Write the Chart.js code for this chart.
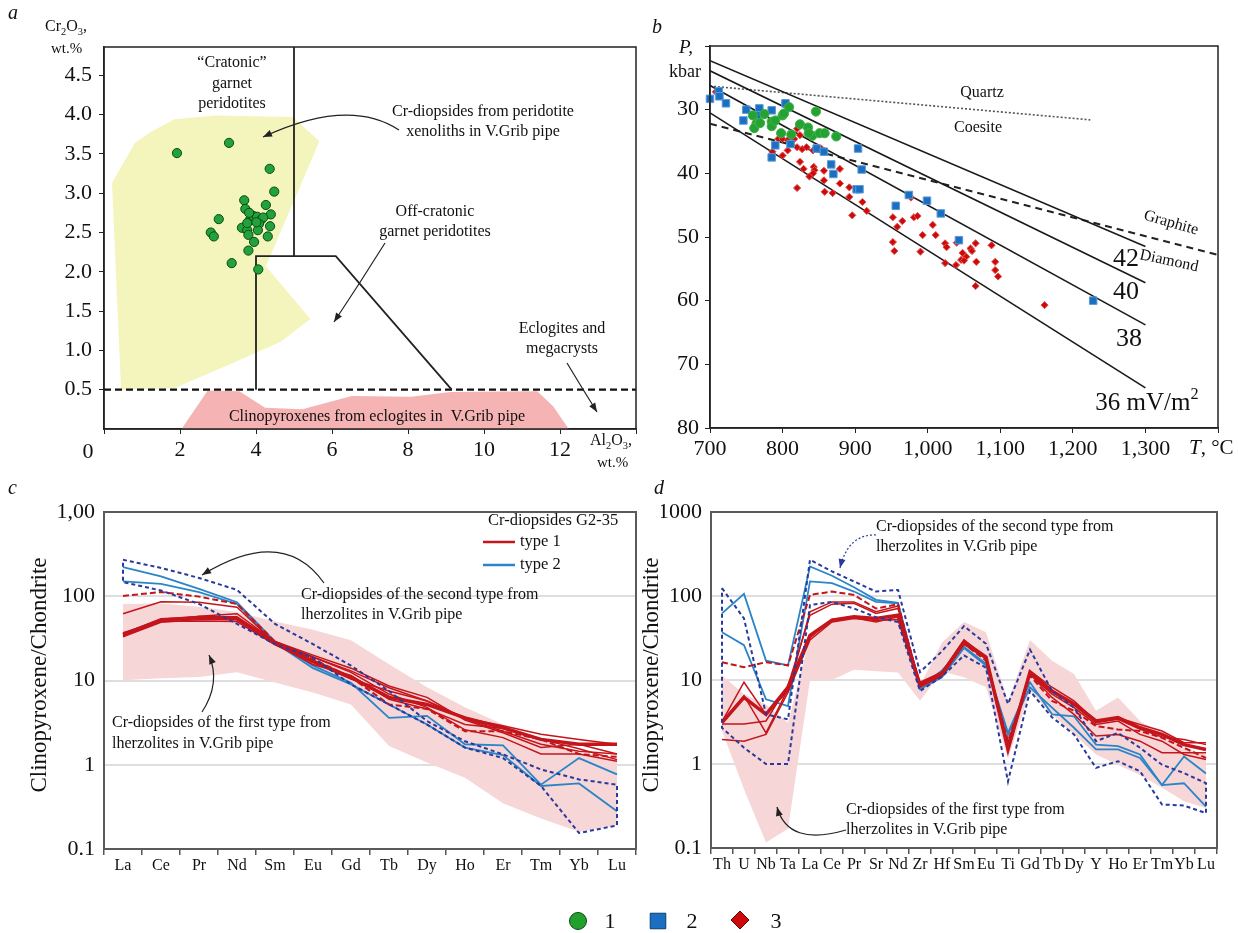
<!DOCTYPE html>
<html><head><meta charset="utf-8">
<script src="https://cdn.jsdelivr.net/npm/chart.js@4.4.1/dist/chart.umd.min.js"></script>
<style>
html,body{margin:0;padding:0;background:#fff;width:1238px;height:933px;overflow:hidden}
canvas{position:absolute;left:0;top:0}
</style></head><body>
<canvas id="ca" width="1238" height="933"></canvas>
<canvas id="cb" width="1238" height="933"></canvas>
<canvas id="cc" width="1238" height="933"></canvas>
<canvas id="cd" width="1238" height="933"></canvas>
<script>
const FONT = '"Liberation Serif","Times New Roman",serif';

// ---------- Panel a : Cr2O3 vs Al2O3 ----------
const aGreen = [[1.92,3.51],[3.29,3.64],[4.36,3.31],[4.48,3.02],[3.69,2.91],[4.26,2.85],[3.72,2.80],[3.02,2.67],[2.81,2.50],[2.89,2.45],[4.39,2.73],[4.37,2.58],[4.31,2.45],[3.63,2.56],[3.77,2.53],[3.84,2.66],[3.93,2.71],[4.03,2.70],[4.13,2.66],[4.19,2.69],[4.08,2.61],[4.05,2.53],[3.80,2.47],[3.95,2.38],[3.80,2.27],[3.36,2.11],[4.06,2.03],[3.82,2.75],[3.77,2.62],[4.01,2.63]];
const aCratonicField = [[0.21,3.13],[0.81,3.64],[1.23,3.78],[1.85,3.94],[2.94,3.99],[4.96,3.97],[5.67,3.66],[4.26,2.07],[5.43,1.40],[4.65,1.11],[3.30,0.82],[1.85,0.52],[0.45,0.50],[0.21,3.13]];
const aEclogiteField = [[2.04,0],[2.73,0.49],[3.56,0.48],[4.24,0.27],[5.22,0.25],[6.52,0.42],[8.08,0.41],[9.12,0.47],[11.40,0.48],[11.82,0.29],[12.23,0],[2.04,0]];
const aCratonicBoundary = [[5,4.86],[5,2.2]];
const aOffCratonicBoundary = [[4,0.5],[4,2.2],[6.1,2.2],[9.15,0.5]];
const aEclogiteBoundary = [[0,0.5],[14,0.5]];
const aXTicks = [0,2,4,6,8,10,12,14];
const aXTickLabels = ['','2','4','6','8','10','12',''];
const aYTicks = [0.5,1,1.5,2,2.5,3,3.5,4,4.5];
const aYTickLabels = ['0.5','1.0','1.5','2.0','2.5','3.0','3.5','4.0','4.5'];

// ---------- Panel b : P-T ----------
const bGreen = [[759,30.9],[764,32.2],[761,32.9],[768,32.1],[775,30.7],[785,31.9],[785,32.6],[790,31.7],[800,30.9],[802,30.6],[809,29.6],[798,33.7],[812,33.9],[824,32.3],[835,32.8],[841,34.1],[846,30.3],[851,33.7],[858,33.7],[874,34.2],[769,32.1],[836,33.7]];
const bBlue = [[700,28.3],[712,27.1],[713,27.9],[722,29.0],[750,30.0],[746,31.7],[768,29.8],[785,30.1],[804,29.0],[765,30.9],[790,35.6],[785,37.5],[811,35.4],[847,36.1],[857,36.6],[904,36.1],[909,39.4],[867,38.6],[870,40.1],[902,42.5],[906,42.5],[956,45.1],[974,43.4],[999,44.3],[1018,46.3],[1043,50.5],[1228,60.0]];
const bRed = [[708,27.2],[794,34.6],[800,34.6],[807,34.8],[816,34.6],[820,33.0],[824,34.0],[820,35.9],[827,36.2],[833,35.9],[842,36.4],[848,35.9],[853,36.1],[786,36.6],[800,37.2],[807,36.4],[824,38.2],[829,39.3],[843,39.0],[844,39.5],[842,40.0],[837,40.5],[857,39.6],[857,41.1],[879,39.3],[879,41.6],[858,42.9],[869,43.1],[820,42.3],[892,42.2],[892,43.7],[910,44.5],[916,45.9],[896,46.6],[952,46.9],[965,47.5],[958,48.4],[977,43.8],[981,46.9],[986,46.7],[952,50.8],[954,52.2],[993,49.7],[990,52.3],[1007,48.1],[1011,49.7],[1024,51.0],[1026,51.6],[1024,54.1],[1040,50.9],[1039,54.4],[1046,53.6],[1048,52.5],[1053,53.1],[1050,53.7],[1059,51.8],[1061,52.2],[1066,51.0],[1067,53.9],[1066,57.7],[1088,51.3],[1093,53.9],[1093,55.2],[1097,56.2],[1161,60.7]];
const bGeotherm42 = [[700,22.3],[1300,51.5]];
const bGeotherm40 = [[700,23.9],[1300,57.2]];
const bGeotherm38 = [[700,26.2],[1300,63.8]];
const bGeotherm36 = [[700,30.5],[1300,73.7]];
const bQuartzCoesite = [[700,26.3],[1224,31.6]];
const bGraphiteDiamond = [[700,32.2],[1400,52.8]];
const bXTicks = [700,800,900,1000,1100,1200,1300,1400];
const bXTickLabels = ['700','800','900','1,000','1,100','1,200','1,300',''];
const bYTicks = [20,30,40,50,60,70,80];
const bYTickLabels = ['','30','40','50','60','70','80'];

// ---------- Panel c : REE ----------
const cElements = ['La','Ce','Pr','Nd','Sm','Eu','Gd','Tb','Dy','Ho','Er','Tm','Yb','Lu'];
const cBandUpper = [81,82,75,65,50,40,30,15.6,8.3,4.8,3.0,2.0,1.4,1.2];
const cBandLower = [10.1,10.6,11,12.5,9.5,7.2,5.2,1.67,1.06,0.70,0.35,0.23,0.16,0.19];
const cEnvUpper = [271,217,165,119,47,27,15,7.5,3.3,1.9,1.33,0.88,0.67,0.58];
const cEnvLower = [147,117,81,47,27,18.7,9.0,5.2,3.0,1.6,1.2,0.56,0.155,0.19];
const cType1A = [35,52,56,54,28,17,10.9,6.3,5.2,3.6,2.75,2.0,1.75,1.75];
const cType1B = [34,50,51,50,26.5,16.3,10.4,7.5,5.7,3.5,2.5,1.75,1.45,1.34];
const cType1C = [62,86,85,74,28,19,13,8.2,5.7,3.6,2.9,2.3,2.0,1.75];
const cType1D = [36,54,57,57,29,19,12.5,6.9,4.8,2.6,2.1,1.34,1.34,1.1];
const cType1E = [37,51,58,62,29,20,14,8.6,6.3,3.4,2.4,1.6,1.75,1.34];
const cType1F = [33,49,53,53,27,15.5,11.5,6.0,4.6,3.0,2.7,2.0,1.55,1.15];
const cType1Dashed = [101,112,99,81,29,18,10.9,5.2,4.6,2.5,2.5,2.0,1.34,1.24];
const cType2A = [221,172,122,85,29,15,9.4,3.6,3.8,1.75,1.7,0.58,1.2,0.77];
const cType2B = [150,140,112,81,28,14,9.0,5.2,3.0,1.6,1.3,0.56,0.6,0.28];
const cYTicks = [0.1,1,10,100,1000];
const cYTickLabels = ['0.1','1','10','100','1,00'];

// ---------- Panel d : spider ----------
const dElements = ['Th','U','Nb','Ta','La','Ce','Pr','Sr','Nd','Zr','Hf','Sm','Eu','Ti','Gd','Tb','Dy','Y','Ho','Er','Tm','Yb','Lu'];
const dBandUpper = [11.3,6.8,5.1,3.1,32,54,58,55,58,8.6,28,49,37,5.6,30,17,11.8,4.3,6.2,3.25,2.25,1.56,1.3];
const dBandLower = [2.5,0.5,0.116,0.17,10,10,13.2,12.7,12.3,5.65,12.6,10.8,8.2,1.15,7.4,3.9,2.25,1.3,0.98,0.74,0.52,0.36,0.30];
const dEnvUpper = [124,54,3.9,3.4,270,196,149,113,118,12.4,22,43.7,27,5.2,23,7.4,4.7,1.87,2.35,1.56,0.98,0.78,0.59];
const dEnvLower = [2.7,1.56,1.0,1.0,78,85,71,56,49,7.4,11,19.6,14,0.62,7.4,3.6,2.25,0.9,1.08,0.82,0.33,0.32,0.26];
const dType1A = [3.1,6.2,3.9,8.2,34,51.5,56.5,54,59,8.6,11.8,28.3,18.7,1.49,12.4,7.4,5.2,3.25,3.56,2.7,2.25,1.7,1.49];
const dType1B = [1.96,1.87,2.25,7.1,30,49,54,51,52.5,8.2,11.2,26.5,17.9,1.42,11.8,6.8,4.7,2.96,3.25,2.25,1.87,1.3,1.13];
const dType1C = [3.2,9.4,3.9,7.4,65,85,85,65,76,9.0,12.5,29.5,17.9,1.63,12.9,8.2,5.65,3.25,3.56,2.96,2.47,1.79,1.79];
const dType1D = [3.0,3.0,3.25,8.6,59,80,82,62,71,9.4,12.4,30,18.7,1.79,11.8,6.2,3.9,2.15,2.25,1.87,1.36,1.36,1.36];
const dType1E = [3.2,6.5,2.35,7.8,32,52.5,55,49,56.5,9.0,12.5,27.5,18.3,1.55,12,7.2,5.0,3.1,3.4,2.6,2.1,1.96,1.7];
const dType1Dashed = [16.3,14.2,16.3,14.9,103,113,103,71,80,8.6,11.8,27,17,1.87,11.3,5.65,4.3,2.83,2.58,2.47,2.05,1.56,1.18];
const dType2A = [62,106,17,14.9,225,174,127,90,83,8.2,13,24.7,15.6,2.35,9.4,3.9,3.7,1.7,1.63,1.3,0.56,0.59,0.31];
const dType2B = [37,26,5.9,4.9,149,142,113,85,82,7.8,10.8,24,14.9,2.25,8.2,4.7,2.7,1.49,1.49,1.18,0.56,1.23,0.77];
const dYTicks = [0.1,1,10,100,1000];
const dYTickLabels = ['0.1','1','10','100','1000'];

// legend of panel b symbols
const symbolLegend = ['1','2','3'];

// ---------- helpers ----------
Chart.defaults.font.family = FONT;
Chart.defaults.color = '#111';
const pts = arr => arr.map(p => ({x:p[0], y:p[1]}));
const RED = '#c4151c', BLUE = '#2a85c8', NAVY = '#283a9c';

function drawSegs(ctx, segs, x, y, o) {
  const size = o.size || 16;
  const parts = (typeof segs === 'string') ? [{t:segs}] : segs;
  let w = 0;
  const m = parts.map(p => {
    const s = (p.sub || p.sup) ? size * 0.65 : size;
    const f = ((p.italic || o.italic) ? 'italic ' : '') + s + 'px ' + FONT;
    ctx.font = f;
    const pw = ctx.measureText(p.t).width; w += pw;
    return {p, f, pw};
  });
  ctx.save();
  ctx.translate(x, y);
  if (o.rotate) ctx.rotate(o.rotate * Math.PI / 180);
  let cx = o.align === 'left' ? 0 : (o.align === 'right' ? -w : -w / 2);
  ctx.textBaseline = 'middle'; ctx.textAlign = 'left';
  ctx.fillStyle = o.color || '#111';
  m.forEach(({p, f, pw}) => {
    ctx.font = f;
    const dy = p.sub ? size * 0.3 : (p.sup ? -size * 0.35 : 0);
    ctx.fillText(p.t, cx, dy); cx += pw;
  });
  ctx.restore();
}
function drawArrow(ctx, a) {
  const [x0, y0, cx, cy, x1, y1] = a.arrow;
  ctx.save();
  ctx.strokeStyle = a.color || '#222'; ctx.fillStyle = a.color || '#222';
  ctx.lineWidth = a.width || 1.2;
  ctx.setLineDash(a.dash || []);
  ctx.beginPath(); ctx.moveTo(x0, y0); ctx.quadraticCurveTo(cx, cy, x1, y1); ctx.stroke();
  ctx.setLineDash([]);
  const ang = Math.atan2(y1 - cy, x1 - cx), L = 9, W = 3.5;
  ctx.beginPath(); ctx.moveTo(x1, y1);
  ctx.lineTo(x1 - L * Math.cos(ang) + W * Math.sin(ang), y1 - L * Math.sin(ang) - W * Math.cos(ang));
  ctx.lineTo(x1 - L * Math.cos(ang) - W * Math.sin(ang), y1 - L * Math.sin(ang) + W * Math.cos(ang));
  ctx.closePath(); ctx.fill();
  ctx.restore();
}
function overlay(id, box, items) {
  return { id, afterDraw(chart) {
    const ctx = chart.ctx, ca = chart.chartArea;
    ctx.save(); ctx.strokeStyle = box.color; ctx.lineWidth = box.width;
    ctx.strokeRect(ca.left, ca.top, ca.right - ca.left, ca.bottom - ca.top); ctx.restore();
    items.forEach(it => {
      if (it.arrow) drawArrow(ctx, it);
      else if (it.line) {
        ctx.save(); ctx.strokeStyle = it.color; ctx.lineWidth = it.width;
        ctx.beginPath(); ctx.moveTo(it.line[0], it.line[1]); ctx.lineTo(it.line[2], it.line[3]); ctx.stroke(); ctx.restore();
      } else if (it.marker) {
        ctx.save(); ctx.fillStyle = it.bg; ctx.strokeStyle = it.border; ctx.lineWidth = 1;
        Chart.helpers.drawPoint(ctx, {pointStyle: it.marker, radius: it.r, rotation: 0, borderWidth: 1}, it.x, it.y);
        ctx.restore();
      } else drawSegs(ctx, it.text, it.x, it.y, it);
    });
  }};
}
// chart area placement on a full-page canvas
function area(x0, y0, x1, y1) {
  return {left: x0 - 50, top: y0, right: 1238 - x1, bottom: 933 - y1 - 40};
}
const fitX = s => { s.height = 40; };
const fitY = s => { s.width = 50; };
const setTicks = arr => s => { s.ticks = arr.map(v => ({value: v})); };
const base = (pad) => ({
  responsive: false, animation: false, devicePixelRatio: 1,
  layout: {padding: pad},
  plugins: {legend: {display: false}, tooltip: {enabled: false}}
});

// ---------- Chart a ----------
new Chart(document.getElementById('ca'), {
  type: 'scatter',
  data: {datasets: [
    {data: pts(aGreen), pointRadius: 4.6, pointBackgroundColor: '#22a23a', pointBorderColor: '#0d4a18', pointBorderWidth: 1, order: 0, clip: false},
    {data: pts(aCratonicBoundary), showLine: true, borderColor: '#222', borderWidth: 1.8, pointRadius: 0, order: 1},
    {data: pts(aOffCratonicBoundary), showLine: true, borderColor: '#222', borderWidth: 1.8, pointRadius: 0, order: 1},
    {data: pts(aEclogiteBoundary), showLine: true, borderColor: '#111', borderWidth: 2.2, borderDash: [7, 4], pointRadius: 0, order: 1},
    {data: pts(aCratonicField), showLine: true, fill: 'shape', backgroundColor: '#f4f4bd', borderColor: 'rgba(0,0,0,0)', borderWidth: 0, pointRadius: 0, order: 3},
    {data: pts(aEclogiteField), showLine: true, fill: 'shape', backgroundColor: '#f5b3b3', borderColor: 'rgba(0,0,0,0)', borderWidth: 0, pointRadius: 0, order: 3}
  ]},
  options: Object.assign(base(area(104, 47, 636, 429)), {
    scales: {
      x: {type: 'linear', min: 0, max: 14, afterBuildTicks: setTicks(aXTicks), afterFit: fitX,
          ticks: {callback: (v, i) => aXTickLabels[i], font: {size: 22}, padding: 3, autoSkip: false, maxRotation: 0, color: '#111'},
          grid: {drawOnChartArea: false, tickLength: 5, color: '#222'}, border: {color: '#222', width: 1.5}},
      y: {type: 'linear', min: 0, max: 4.86, afterBuildTicks: setTicks(aYTicks), afterFit: fitY,
          ticks: {callback: (v, i) => aYTickLabels[i], font: {size: 22}, padding: 7, autoSkip: false, color: '#111'},
          grid: {drawOnChartArea: false, tickLength: 5, color: '#222'}, border: {color: '#222', width: 1.5}}
    }
  }),
  plugins: [overlay('oa', {color: '#222', width: 1.5}, [
    {text: 'a', x: 8, y: 14, size: 20, italic: true, align: 'left'},
    {text: [{t: 'Cr'}, {t: '2', sub: 1}, {t: 'O'}, {t: '3', sub: 1}, {t: ','}], x: 45, y: 27, size: 16, align: 'left'},
    {text: 'wt.%', x: 51, y: 49, size: 15, align: 'left'},
    {text: '“Cratonic”', x: 232, y: 63, size: 16},
    {text: 'garnet', x: 232, y: 84, size: 16},
    {text: 'peridotites', x: 232, y: 104, size: 16},
    {text: 'Cr-diopsides from peridotite', x: 483, y: 112, size: 16},
    {text: 'xenoliths in V.Grib pipe', x: 483, y: 132, size: 16},
    {text: 'Off-cratonic', x: 435, y: 212, size: 16},
    {text: 'garnet peridotites', x: 435, y: 232, size: 16},
    {text: 'Eclogites and', x: 562, y: 329, size: 16},
    {text: 'megacrysts', x: 562, y: 349, size: 16},
    {text: 'Clinopyroxenes from eclogites in  V.Grib pipe', x: 377, y: 417, size: 16},
    {text: '0', x: 88, y: 452, size: 22},
    {text: [{t: 'Al'}, {t: '2', sub: 1}, {t: 'O'}, {t: '3', sub: 1}, {t: ','}], x: 590, y: 441, size: 16, align: 'left'},
    {text: 'wt.%', x: 597, y: 463, size: 15, align: 'left'},
    {arrow: [399, 130, 349, 97, 263, 137]},
    {arrow: [385, 243, 360, 283, 334, 322]},
    {arrow: [567, 363, 582, 388, 597, 412]}
  ])]
});

// ---------- Chart b ----------
const geo = (d) => ({data: pts(d), showLine: true, borderColor: '#1a1a1a', borderWidth: 1.6, pointRadius: 0, order: 4});
new Chart(document.getElementById('cb'), {
  type: 'scatter',
  data: {datasets: [
    {data: pts(bGreen), pointStyle: 'circle', pointRadius: 4.6, pointBackgroundColor: '#24a232', pointBorderColor: '#3fb14a', pointBorderWidth: 1, order: 0, clip: false},
    {data: pts(bBlue), pointStyle: 'rect', pointRadius: 5.3, pointBackgroundColor: '#1b6fc2', pointBorderColor: '#5b9ad6', pointBorderWidth: 1, order: 1, clip: false},
    {data: pts(bRed), pointStyle: 'rectRot', pointRadius: 3.6, pointBackgroundColor: '#cc0a0a', pointBorderColor: '#e05050', pointBorderWidth: 1, order: 2, clip: false},
    geo(bGeotherm42), geo(bGeotherm40), geo(bGeotherm38), geo(bGeotherm36),
    {data: pts(bQuartzCoesite), showLine: true, borderColor: '#555', borderWidth: 1.6, borderDash: [2, 2], pointRadius: 0, order: 4},
    {data: pts(bGraphiteDiamond), showLine: true, borderColor: '#222', borderWidth: 2, borderDash: [7, 5], pointRadius: 0, order: 4}
  ]},
  options: Object.assign(base(area(710, 46, 1218, 428)), {
    scales: {
      x: {type: 'linear', min: 700, max: 1400, afterBuildTicks: setTicks(bXTicks), afterFit: fitX,
          ticks: {callback: (v, i) => bXTickLabels[i], font: {size: 22}, padding: 3, autoSkip: false, maxRotation: 0, color: '#111'},
          grid: {drawOnChartArea: false, tickLength: 5, color: '#222'}, border: {color: '#222', width: 1.5}},
      y: {type: 'linear', min: 20, max: 80, reverse: true, afterBuildTicks: setTicks(bYTicks), afterFit: fitY,
          ticks: {callback: (v, i) => bYTickLabels[i], font: {size: 22}, padding: 6, autoSkip: false, color: '#111'},
          grid: {drawOnChartArea: false, tickLength: 5, color: '#222'}, border: {color: '#222', width: 1.5}}
    }
  }),
  plugins: [overlay('ob', {color: '#222', width: 1.5}, [
    {text: 'b', x: 652, y: 28, size: 20, italic: true, align: 'left'},
    {text: 'P,', x: 679, y: 48, size: 19, italic: true, align: 'left'},
    {text: 'kbar', x: 669, y: 72, size: 18, align: 'left'},
    {text: 'Quartz', x: 982, y: 93, size: 16},
    {text: 'Coesite', x: 978, y: 128, size: 16},
    {text: 'Graphite', x: 1171, y: 223, size: 16, rotate: 16},
    {text: 'Diamond', x: 1169, y: 261, size: 16, rotate: 12},
    {text: '42', x: 1126, y: 259, size: 26},
    {text: '40', x: 1126, y: 292, size: 26},
    {text: '38', x: 1129, y: 339, size: 26},
    {text: [{t: '36 mV/m'}, {t: '2', sup: 1}], x: 1147, y: 403, size: 25},
    {text: [{t: 'T', italic: 1}, {t: ', °C'}], x: 1189, y: 448, size: 21, align: 'left'}
  ])]
});

// ---------- Chart c ----------
const ln = (data, color, width, dash, order) => ({data, borderColor: color, borderWidth: width, borderDash: dash || [], pointRadius: 0, fill: false, tension: 0, order});
const envelope = (labels, up, lo) => {
  const e = labels.map((l, i) => ({x: l, y: up[i]})).concat(labels.map((l, i) => ({x: l, y: lo[i]})).reverse());
  e.push(e[0]);
  return e;
};
const spiderScales = (labelsFont, yTicks, yLabels) => ({
  x: {type: 'category', offset: true, afterFit: fitX,
      ticks: {font: {size: labelsFont}, padding: 1, autoSkip: false, maxRotation: 0, color: '#111'},
      grid: {offset: true, drawOnChartArea: false, tickLength: 6, color: '#555', lineWidth: 1.5},
      border: {color: '#5a5a5a', width: 2}},
  y: {type: 'logarithmic', min: 0.1, max: 1000, afterBuildTicks: setTicks(yTicks), afterFit: fitY,
      ticks: {callback: (v, i) => yLabels[i], font: {size: 22}, padding: 9, autoSkip: false, color: '#111'},
      grid: {color: c => ([1, 10, 100].includes(c.tick && c.tick.value) ? '#dedede' : 'rgba(0,0,0,0)'), lineWidth: 2, drawTicks: false},
      border: {color: '#5a5a5a', width: 2}}
});
new Chart(document.getElementById('cc'), {
  type: 'line',
  data: {labels: cElements, datasets: [
    {data: envelope(cElements, cEnvUpper, cEnvLower), borderColor: NAVY, borderWidth: 2, borderDash: [4, 3], pointRadius: 0, fill: false, tension: 0, order: 0},
    ln(cType1A, RED, 3.5, null, 1), ln(cType1B, RED, 1.5, null, 1), ln(cType1C, RED, 1.5, null, 1),
    ln(cType1D, RED, 1.5, null, 1), ln(cType1E, RED, 1.5, null, 1), ln(cType1F, RED, 1.5, null, 1),
    ln(cType1Dashed, RED, 2, [6, 3], 1),
    ln(cType2A, BLUE, 1.8, null, 2), ln(cType2B, BLUE, 1.8, null, 2),
    {data: cBandUpper, fill: '+1', backgroundColor: '#f6d6d6', borderColor: 'rgba(0,0,0,0)', borderWidth: 0, pointRadius: 0, tension: 0, order: 8},
    {data: cBandLower, fill: false, borderColor: 'rgba(0,0,0,0)', borderWidth: 0, pointRadius: 0, tension: 0, order: 9}
  ]},
  options: Object.assign(base(area(104, 512, 636, 849)), {scales: spiderScales(16, cYTicks, cYTickLabels)}),
  plugins: [overlay('oc', {color: '#5a5a5a', width: 2}, [
    {text: 'c', x: 8, y: 489, size: 20, italic: true, align: 'left'},
    {text: 'Clinopyroxene/Chondrite', x: 40, y: 675, size: 23, rotate: -90},
    {text: 'Cr-diopsides G2-35', x: 488, y: 521, size: 16.5, align: 'left'},
    {line: [483, 542, 515, 542], color: RED, width: 2.5},
    {text: 'type 1', x: 520, y: 542, size: 16.5, align: 'left'},
    {line: [483, 565, 515, 565], color: BLUE, width: 2.5},
    {text: 'type 2', x: 520, y: 565, size: 16.5, align: 'left'},
    {text: 'Cr-diopsides of the second type from', x: 301, y: 595, size: 16, align: 'left'},
    {text: 'lherzolites in V.Grib pipe', x: 301, y: 615, size: 16, align: 'left'},
    {text: 'Cr-diopsides of the first type from', x: 112, y: 723, size: 16, align: 'left'},
    {text: 'lherzolites in V.Grib pipe', x: 112, y: 744, size: 16, align: 'left'},
    {arrow: [324, 583, 283, 525, 202, 575]},
    {arrow: [202, 712, 221, 683, 209, 655]}
  ])]
});

// ---------- Chart d ----------
new Chart(document.getElementById('cd'), {
  type: 'line',
  data: {labels: dElements, datasets: [
    {data: envelope(dElements, dEnvUpper, dEnvLower), borderColor: NAVY, borderWidth: 2, borderDash: [4, 3], pointRadius: 0, fill: false, tension: 0, order: 0},
    ln(dType1A, RED, 3.5, null, 1), ln(dType1B, RED, 1.5, null, 1), ln(dType1C, RED, 1.5, null, 1),
    ln(dType1D, RED, 1.5, null, 1), ln(dType1E, RED, 1.5, null, 1),
    ln(dType1Dashed, RED, 2, [6, 3], 1),
    ln(dType2A, BLUE, 1.8, null, 2), ln(dType2B, BLUE, 1.8, null, 2),
    {data: dBandUpper, fill: '+1', backgroundColor: '#f6d6d6', borderColor: 'rgba(0,0,0,0)', borderWidth: 0, pointRadius: 0, tension: 0, order: 8},
    {data: dBandLower, fill: false, borderColor: 'rgba(0,0,0,0)', borderWidth: 0, pointRadius: 0, tension: 0, order: 9}
  ]},
  options: Object.assign(base(area(711, 512, 1217, 848)), {scales: spiderScales(16, dYTicks, dYTickLabels)}),
  plugins: [overlay('od', {color: '#5a5a5a', width: 2}, [
    {text: 'd', x: 654, y: 489, size: 20, italic: true, align: 'left'},
    {text: 'Clinopyroxene/Chondrite', x: 652, y: 675, size: 23, rotate: -90},
    {text: 'Cr-diopsides of the second type from', x: 876, y: 527, size: 16, align: 'left'},
    {text: 'lherzolites in V.Grib pipe', x: 876, y: 547, size: 16, align: 'left'},
    {text: 'Cr-diopsides of the first type from', x: 846, y: 810, size: 16, align: 'left'},
    {text: 'lherzolites in V.Grib pipe', x: 846, y: 830, size: 16, align: 'left'},
    {arrow: [876, 535, 848, 534, 840, 568], color: NAVY, dash: [2, 2]},
    {arrow: [846, 830, 788, 847, 777, 807]},
    {marker: 'circle', x: 578, y: 921, r: 8.5, bg: '#22a02c', border: '#0d4a18'},
    {text: symbolLegend[0], x: 610, y: 922, size: 22},
    {marker: 'rect', x: 658, y: 921, r: 11, bg: '#1b6fc2', border: '#0d3d70'},
    {text: symbolLegend[1], x: 692, y: 922, size: 22},
    {marker: 'rectRot', x: 740, y: 920, r: 9, bg: '#cc0a0a', border: '#6a0000'},
    {text: symbolLegend[2], x: 776, y: 922, size: 22}
  ])]
});
</script>
</body></html>
